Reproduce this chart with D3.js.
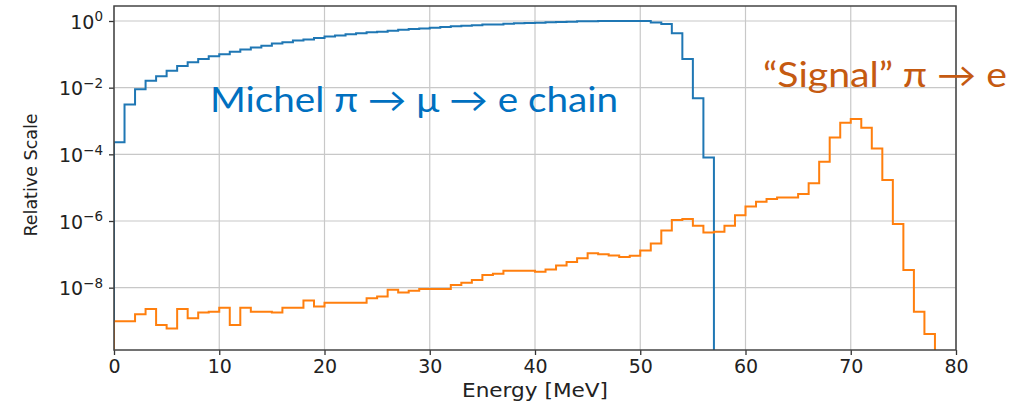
<!DOCTYPE html>
<html>
<head>
<meta charset="utf-8">
<script src="https://cdn.jsdelivr.net/npm/d3@7"></script>
<style>
body { margin: 0; background: #fff; }
svg text { font-family: "DejaVu Sans", sans-serif; }
</style>
</head>
<body>
<div id="chart"></div>
<script>

// 1 MeV bins, values are relative (log scale)
var binWidth = 1;

var michel = [2.3e-4, 3.1e-3, 8.9e-3, 1.6e-2, 2.2e-2, 3.2e-2, 4.5e-2, 5.8e-2, 7.2e-2, 8.7e-2,
	0.10, 0.12, 0.14, 0.16, 0.18, 0.21, 0.23, 0.26, 0.28, 0.31,
	0.34, 0.37, 0.40, 0.43, 0.46, 0.48, 0.51, 0.55, 0.58, 0.60,
	0.63, 0.66, 0.69, 0.72, 0.74, 0.78, 0.79, 0.83, 0.85, 0.87,
	0.89, 0.91, 0.93, 0.95, 0.98, 0.99, 1.0, 1.0, 1.0, 1.0,
	1.0, 0.90, 0.81, 0.43, 7.2e-2, 4.8e-3, 8.1e-5];

var signal = [9.8e-10, 9.8e-10, 1.6e-9, 2.3e-9, 7.6e-10, 6.0e-10, 2.3e-9, 1.2e-9, 1.8e-9, 1.9e-9,
	2.5e-9, 7.6e-10, 2.5e-9, 1.9e-9, 1.9e-9, 1.8e-9, 2.5e-9, 2.5e-9, 4.1e-9, 2.7e-9,
	3.5e-9, 3.5e-9, 3.5e-9, 3.5e-9, 4.8e-9, 5.4e-9, 8.7e-9, 7.2e-9, 8.1e-9, 9.1e-9,
	9.1e-9, 9.1e-9, 1.2e-8, 1.4e-8, 1.7e-8, 2.4e-8, 2.6e-8, 3.2e-8, 3.2e-8, 3.2e-8,
	3.0e-8, 3.5e-8, 4.6e-8, 5.9e-8, 7.6e-8, 1.07e-7, 1.0e-7, 9.3e-8, 8.3e-8, 9.1e-8,
	1.3e-7, 2.1e-7, 5.2e-7, 1.07e-6, 1.15e-6, 7.2e-7, 4.5e-7, 4.8e-7, 7.2e-7, 1.5e-6,
	2.7e-6, 3.8e-6, 4.6e-6, 5.1e-6, 5.1e-6, 6.5e-6, 1.35e-5, 6.0e-5, 3.2e-4, 8.9e-4,
	1.15e-3, 6.3e-4, 1.5e-4, 1.7e-5, 8.1e-7, 3.4e-8, 1.9e-9, 4.1e-10];

var xTicks = [0, 10, 20, 30, 40, 50, 60, 70, 80];
var yExponents = [0, -2, -4, -6, -8];

var xLabel = "Energy [MeV]";
var yLabel = "Relative Scale";
var michelLabel = "Michel \u03c0 \u2192 \u03bc \u2192 e chain";
var signalLabel = "\u201cSignal\u201d \u03c0 \u2192 e";

var width = 1020, height = 404;
var margin = {top: 6, right: 64, bottom: 54, left: 114};
var w = width - margin.left - margin.right;
var h = height - margin.top - margin.bottom;

var svg = d3.select("#chart").append("svg")
	.attr("width", width)
	.attr("height", height);

var g = svg.append("g")
	.attr("transform", "translate(" + margin.left + "," + margin.top + ")");

var x = d3.scaleLinear().domain([0, 80]).range([0, w]);
var y = d3.scaleLog().domain([Math.pow(10, -9.87), Math.pow(10, 0.45)]).range([h, 0]);

// grid
g.append("g").selectAll("line.vg")
	.data(xTicks).enter().append("line")
	.attr("x1", d => x(d)).attr("x2", d => x(d))
	.attr("y1", 0).attr("y2", h)
	.attr("stroke", "#c8c8c8").attr("stroke-width", 1.2);

g.append("g").selectAll("line.hg")
	.data(yExponents).enter().append("line")
	.attr("x1", 0).attr("x2", w)
	.attr("y1", d => y(Math.pow(10, d))).attr("y2", d => y(Math.pow(10, d)))
	.attr("stroke", "#c8c8c8").attr("stroke-width", 1.2);

// step histogram path, goes down to the bottom at both ends
function stepPath(vals) {
	var bottom = y.range()[0] + 5;
	var p = "M" + x(0) + "," + bottom;
	for (var i = 0; i < vals.length; i++) {
		var x0 = x(i * binWidth), x1 = x((i + 1) * binWidth), yy = y(vals[i]);
		p += "L" + x0 + "," + yy + "L" + x1 + "," + yy;
	}
	p += "L" + x(vals.length * binWidth) + "," + bottom;
	return p;
}

svg.append("clipPath").attr("id", "clip")
	.append("rect").attr("width", w).attr("height", h);

var lines = g.append("g").attr("clip-path", "url(#clip)");

lines.append("path")
	.attr("d", stepPath(michel))
	.attr("fill", "none")
	.attr("stroke", "#1f77b4")
	.attr("stroke-width", 2);

lines.append("path")
	.attr("d", stepPath(signal))
	.attr("fill", "none")
	.attr("stroke", "#ff7f0e")
	.attr("stroke-width", 2);

// axes
var xAxis = g.append("g")
	.attr("transform", "translate(0," + h + ")")
	.call(d3.axisBottom(x).tickValues(xTicks).tickSize(5).tickPadding(5).tickSizeOuter(0));

var yAxis = g.append("g")
	.call(d3.axisLeft(y).tickValues(yExponents.map(e => Math.pow(10, e))).tickSize(5).tickPadding(6).tickSizeOuter(0).tickFormat(""));

[xAxis, yAxis].forEach(function(a) {
	a.select(".domain").remove();
	a.selectAll(".tick line").attr("stroke", "#333").attr("stroke-width", 1.3);
	a.selectAll("text").attr("font-size", 19).attr("fill", "#222")
		.attr("font-family", "DejaVu Sans");
});

yAxis.selectAll(".tick text")
	.attr("dy", "0.38em")
	.each(function(d) {
		var t = d3.select(this);
		var e = Math.round(Math.log10(d));
		t.text("10");
		t.append("tspan")
			.attr("dy", "-0.55em")
			.attr("font-size", 13.5)
			.text(e === 0 ? "0" : "\u2212" + Math.abs(e));
	});

// frame
g.append("rect")
	.attr("width", w).attr("height", h)
	.attr("fill", "none")
	.attr("stroke", "#444")
	.attr("stroke-width", 1.5);

// axis labels
svg.append("text")
	.attr("x", margin.left + w / 2)
	.attr("y", 397)
	.attr("text-anchor", "middle")
	.attr("font-size", 19)
	.attr("fill", "#222")
	.attr("textLength", 146)
	.attr("lengthAdjust", "spacingAndGlyphs")
	.text(xLabel);

svg.append("text")
	.attr("transform", "translate(37,175) rotate(-90)")
	.attr("text-anchor", "middle")
	.attr("font-size", 17.5)
	.attr("fill", "#222")
	.text(yLabel);

// annotations
svg.append("text")
	.attr("x", 210).attr("y", 112)
	.style("font-family", "Lato, 'Open Sans', sans-serif")
	.attr("font-size", 34)
	.attr("fill", "#0070c0")
	.attr("textLength", 408)
	.attr("lengthAdjust", "spacingAndGlyphs")
	.text(michelLabel);

svg.append("text")
	.attr("x", 763).attr("y", 87)
	.style("font-family", "Lato, 'Open Sans', sans-serif")
	.attr("font-size", 34)
	.attr("fill", "#c55a11")
	.attr("textLength", 244)
	.attr("lengthAdjust", "spacingAndGlyphs")
	.text(signalLabel);

</script>
</body>
</html>
